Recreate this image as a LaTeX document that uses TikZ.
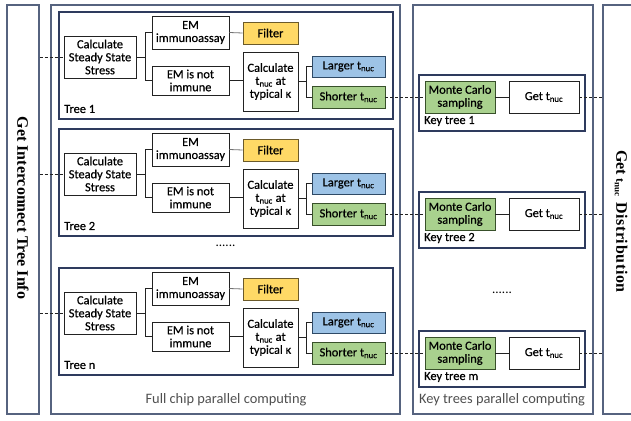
\documentclass[tikz,border=0pt]{standalone}
\usepackage{fontspec}
\setmainfont{Carlito}
\newfontfamily\boxfont{Carlito}[FakeBold=0.5]
\newfontfamily\serifb{Liberation Serif}
\newfontfamily\serifbsp{Liberation Serif}[LetterSpace=4]
\newcommand\tnuc{t\textsubscript{nuc}}
\definecolor{panelc}{HTML}{56637F}
\definecolor{treec}{HTML}{2E3B5E}
\definecolor{boxc}{HTML}{222222}
\definecolor{filterc}{HTML}{FFD966}
\definecolor{filterb}{HTML}{6B5A2A}
\definecolor{largerc}{HTML}{9DC3E6}
\definecolor{largerb}{HTML}{2F4A66}
\definecolor{greenc}{HTML}{A9D18E}
\definecolor{greenb}{HTML}{38502A}
\definecolor{graytext}{HTML}{505050}
\begin{document}
\begin{tikzpicture}[x=1pt,y=-1pt,
  panel/.style={draw=panelc, line width=1.4pt, minimum height=409pt, inner sep=0pt},
  treebox/.style={draw=treec, line width=1.2pt, inner sep=0pt},
  box/.style={draw=boxc, line width=0.8pt, fill=white, align=center, inner sep=0pt,
    font=\boxfont\fontsize{12.4}{13}\selectfont},
  filterbox/.style={box, fill=filterc, draw=filterb},
  largerbox/.style={box, fill=largerc, draw=largerb},
  greenbox/.style={box, fill=greenc, draw=greenb},
  lbl/.style={anchor=west, inner sep=0pt, font=\boxfont\fontsize{12.4}{12.4}\selectfont},
  conn/.style={draw=boxc, line width=0.8pt},
  gconn/.style={draw=black!55, line width=0.8pt},
  dconn/.style={draw=boxc, line width=0.8pt, dash pattern=on 3pt off 2pt},
  dots/.style={inner sep=0pt, font=\fontsize{13}{13}\selectfont},
  foot/.style={inner sep=0pt, text=graytext, font=\fontsize{14.4}{14.4}\selectfont},
  vtitle/.style={inner sep=0pt, rotate=-90, font=\serifb\bfseries\fontsize{16}{16}\selectfont}
]
\useasboundingbox (0,0) rectangle (631,420);
\clip (0,0) rectangle (631,420);
\fill[white] (0,0) rectangle (631,420);

% panels
\node[panel, minimum width=32pt] (lp) at (23,209.5) {};
\node[panel, minimum width=349pt] (fc) at (225.5,209.5) {};
\node[panel, minimum width=180pt] (kt) at (503,209.5) {};
\node[panel, minimum width=44pt] (rp) at (625,209.5) {};

\node[vtitle] (lt) at (23,208) {Get Interconnect Tree Info};
\node[vtitle] (rt) at (621,221.5) {Get\hspace{3pt}{\fontsize{12}{12}\selectfont t\raisebox{-1.5pt}{\fontsize{9}{9}\selectfont nuc}}\hspace{6pt}{\serifbsp Distribution}};

\node[dots] (dl) at (225.5,246) {......};
\node[dots] (dr) at (502,293) {......};
\node[foot] (fl) at (226,400) {Full chip parallel computing};
\node[foot] (fr) at (502,400) {Key trees parallel computing};

\foreach \d/\t/\k/\i in {0/1/1/a, 117/2/2/b, 256/n/m/c} {
  \node[treebox, minimum width=334pt, minimum height=107pt] (tb\i) at (226,65.5+\d) {};
  \node[box, minimum width=72pt, minimum height=42pt] (sss\i) at (100,57+\d) {Calculate\\Steady State\\Stress};
  \node[box, minimum width=77pt, minimum height=33pt] (emi\i) at (190.5,32.5+\d) {EM\\immunoassay};
  \node[filterbox, minimum width=55pt, minimum height=22pt] (fil\i) at (270.5,33+\d) {Filter};
  \node[box, minimum width=77pt, minimum height=29pt] (emn\i) at (190.5,80.5+\d) {EM is not\\immune};
  \node[box, minimum width=55pt, minimum height=59pt] (calc\i) at (270.5,81.5+\d) {Calculate\\\tnuc{} at\\typical κ};
  \node[largerbox, minimum width=73pt, minimum height=21pt] (lg\i) at (348.5,66.5+\d) {Larger \tnuc};
  \node[greenbox, minimum width=73pt, minimum height=22pt] (sh\i) at (348.5,97+\d) {Shorter \tnuc};
  \node[lbl] (tl\i) at (64,109+\d) {Tree \t};

  \node[treebox, minimum width=166pt, minimum height=56pt] (kb\i) at (502,103+\d) {};
  \node[greenbox, minimum width=70pt, minimum height=32pt] (mc\i) at (460,97+\d) {Monte Carlo\\sampling};
  \node[box, minimum width=70pt, minimum height=32pt] (get\i) at (544,97+\d) {Get \tnuc};
  \node[lbl] (kl\i) at (424,121+\d) {Key tree \k};

  \draw[conn] (emi\i.west) -- ++(-6,0) |- (sss\i.east);
  \draw[conn] (emn\i.west) -- ++(-6,0) |- (sss\i.east);
  \draw[gconn] (emi\i.east) -- (fil\i.west);
  \draw[conn] (emn\i.east) -- (emn\i.east -| calc\i.west);
  \draw[conn] (lg\i.west) -- ++(-5,0) |- (calc\i.east);
  \draw[conn] (sh\i.west) -- ++(-5,0) |- (calc\i.east);
  \draw[conn] (mc\i.east) -- (get\i.west);
  \draw[dconn] (sss\i.west -| lp.east) -- (sss\i.west);
  \draw[dconn] (sh\i.east) -- (mc\i.west);
  \draw[dconn] (get\i.east) -- (get\i.east -| rp.west);
}
\end{tikzpicture}
\end{document}
